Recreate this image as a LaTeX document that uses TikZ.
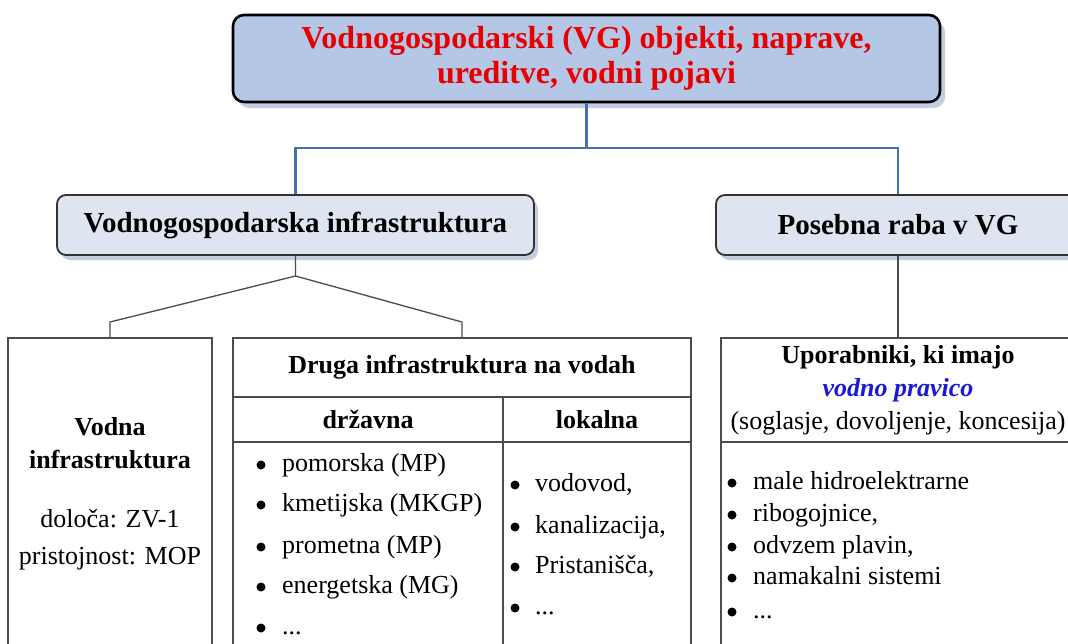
\documentclass[tikz,border=0pt]{standalone}
\usepackage{fontspec}
\setmainfont{Liberation Serif}
\usepackage{xcolor}
\usepackage{tikz}
\usetikzlibrary{positioning,shadows}

\definecolor{titlefill}{RGB}{181,199,230}
\definecolor{boxfill}{RGB}{222,229,241}
\definecolor{shade}{RGB}{196,205,222}
\definecolor{linkblue}{RGB}{68,114,176}
\definecolor{titlered}{RGB}{232,0,0}
\definecolor{pravblue}{RGB}{25,25,215}
\newcommand{\txtsize}{\fontsize{26}{33}\selectfont}

\tikzset{
  titlebox/.style={draw=black,line width=2.6pt,rounded corners=11pt,fill=titlefill,
    minimum width=707pt,minimum height=87pt,inner sep=0pt,align=center,text=titlered,
    font=\bfseries\fontsize{32}{35}\selectfont,
    drop shadow={shadow xshift=5pt,shadow yshift=-6pt,fill=shade,opacity=1}},
  lvlbox/.style={draw=black!80,line width=1.8pt,rounded corners=9pt,fill=boxfill,
    minimum height=60pt,inner sep=0pt,font=\bfseries\fontsize{29}{34}\selectfont,
    drop shadow={shadow xshift=4pt,shadow yshift=-5pt,fill=shade,opacity=1}},
  cell/.style={draw=black!70,line width=1.2pt,inner sep=0pt,align=center},
  headcell/.style={cell,font=\txtsize\bfseries},
  bluelink/.style={draw=linkblue,line width=2.6pt},
  graylink/.style={draw=black!70,line width=1.3pt},
  bul/.style={circle,fill=black,inner sep=0pt,minimum size=9pt},
  item/.style={inner sep=0pt,anchor=west,text height=18pt,text depth=6pt}
}

\begin{document}
\begin{tikzpicture}[x=1pt,y=-1pt,font=\txtsize]
\clip (0,0) rectangle (1068,643);
\fill[white] (0,0) rectangle (1068,643);

% title and second level
\node[titlebox] (vg) at (586.5,58.5) {Vodnogospodarski (VG) objekti, naprave,\\ureditve, vodni pojavi};
\node[lvlbox,minimum width=477pt] (vgi) at (295.5,225) {Vodnogospodarska infrastruktura};
\node[lvlbox,minimum width=364pt] (raba) at (898,225) {Posebna raba v VG};

% bottom boxes
\node[cell,minimum width=204pt,minimum height=312pt] (vodna) at (110,494)
  {\textbf{Vodna}\\\textbf{infrastruktura}\\[26pt]določa: ZV-1\\[4pt]pristojnost: MOP};
\node[headcell,minimum width=458pt,minimum height=59pt] (druga) at (462,367.5) {Druga infrastruktura na vodah};
\node[headcell,minimum width=270pt,minimum height=45pt] (drz) at (368,419.5) {državna};
\node[headcell,minimum width=188pt,minimum height=45pt] (lok) at (597,419.5) {lokalna};
\node[cell,minimum width=270pt,minimum height=208pt] (drzlist) at (368,546) {};
\node[cell,minimum width=188pt,minimum height=208pt] (loklist) at (597,546) {};
\node[cell,minimum width=354pt,minimum height=104pt] (uporhead) at (898,390)
  {\textbf{Uporabniki, ki imajo}\\\textcolor{pravblue}{\bfseries\itshape vodno pravico}\\(soglasje, dovoljenje, koncesija)};
\node[cell,minimum width=354pt,minimum height=208pt] (uporlist) at (898,546) {};

% lists
\foreach \y/\t [count=\i] in {465/{pomorska (MP)},505/{kmetijska (MKGP)},547/{prometna (MP)},587/{energetska (MG)},628/{...}}{
  \node[bul] (dzb\i) at (261,\y) {};
  \node[item] (dz\i) at (282,\y) {\t};
}
\foreach \y/\t [count=\i] in {485/{vodovod,},527/{kanalizacija,},567/{Pristanišča,},608/{...}}{
  \node[bul] (lkb\i) at (515,\y) {};
  \node[item] (lk\i) at (535,\y) {\t};
}
\foreach \y/\t [count=\i] in {483/{male hidroelektrarne},515/{ribogojnice,},547/{odvzem plavin,},578/{namakalni sistemi},612/{...}}{
  \node[bul] (upb\i) at (732,\y) {};
  \node[item] (up\i) at (753,\y) {\t};
}

% connectors
\coordinate (split) at (586.5,148);
\draw[bluelink] (vg.south) -- (split);
\draw[bluelink] (vgi.north) |- (split) -| (raba.north);

\coordinate (fork) at (295.5,276);
\coordinate (forkl) at (110,322);
\coordinate (forkr) at (462,322);
\draw[graylink] (vgi.south) -- (fork) -- (forkl) -- (vodna.north);
\draw[graylink] (fork) -- (forkr) -- (druga.north);
\draw[graylink] (raba.south) -- (uporhead.north);
\end{tikzpicture}
\end{document}
